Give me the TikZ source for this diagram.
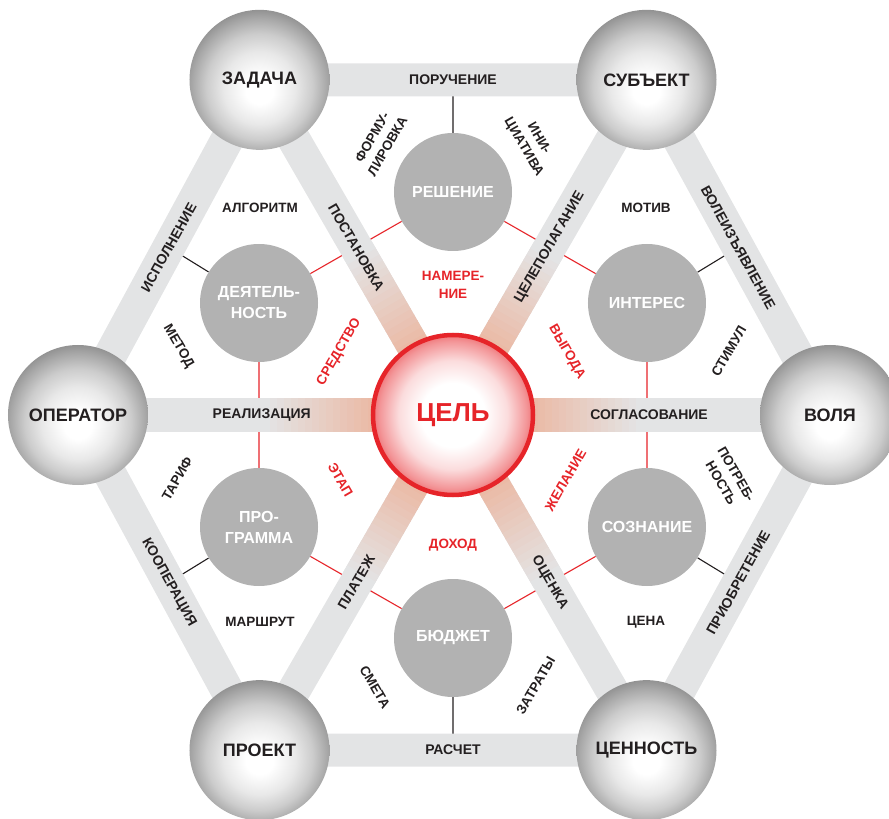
\documentclass[tikz,border=0pt]{standalone}
\usepackage{fontspec}
\setmainfont{Liberation Sans}
\usetikzlibrary{calc}

\definecolor{bargray}{RGB}{227,228,229}
\definecolor{spokered}{RGB}{235,186,166}
\definecolor{cellgray}{RGB}{178,178,178}
\definecolor{goalred}{RGB}{230,36,41}
\definecolor{inkblack}{RGB}{35,31,32}

\pgfdeclareradialshading{sphereshade}{\pgfpoint{0bp}{-4bp}}{color(0bp)=(white); color(5bp)=(white); color(13bp)=(black!9); color(19bp)=(black!20); color(24bp)=(black!34); color(28bp)=(black!46); color(50bp)=(black!46)}
\pgfdeclareradialshading{goalshade}{\pgforigin}{color(0bp)=(white); color(10bp)=(white); color(17bp)=(goalred!16); color(23bp)=(goalred!48); color(25bp)=(goalred!62); color(50bp)=(goalred!62)}

\pgfdeclarelayer{lines}
\pgfdeclarelayer{bars}
\pgfsetlayers{lines,bars,main}

\tikzset{
  sphere/.style={circle, minimum size=140pt, inner sep=0pt, shade, shading=sphereshade, text=inkblack, font=\fontsize{18}{20}\selectfont\bfseries},
  cell/.style={circle, minimum size=118pt, inner sep=0pt, fill=cellgray, text=white, align=center, font=\fontsize{16}{21}\selectfont\bfseries},
  goalball/.style={circle, minimum size=160pt, inner sep=0pt, shade, shading=goalshade, draw=goalred, line width=4.5pt, text=goalred, font=\fontsize{26}{30}\selectfont\bfseries},
  bar/.style={line width=33pt, draw=bargray},
  barlabel/.style={inner sep=0pt, text=inkblack, font=\fontsize{14}{17}\selectfont\bfseries},
  tag/.style={inner sep=0pt, align=center, text=inkblack, font=\fontsize{13.5}{17.5}\selectfont\bfseries},
  redtag/.style={tag, text=goalred},
  redline/.style={goalred, line width=1.1pt},
  blackline/.style={inkblack, line width=1.1pt}
}

\begin{document}
\begin{tikzpicture}[x=1pt, y=1pt]
    \useasboundingbox (-453,-404) rectangle (436,415);
    \coordinate (O) at (0,0);
    \node[sphere] (zad) at (120:387) {ЗАДАЧА};
    \node[sphere] (sub) at (60:387) {СУБЪЕКТ};
    \node[sphere] (vol) at (0:377) {ВОЛЯ};
    \node[sphere] (cen) at (-60:387) {ЦЕННОСТЬ};
    \node[sphere] (pro) at (-120:387) {ПРОЕКТ};
    \node[sphere] (opr) at (180:375) {ОПЕРАТОР};
    \node[cell] (resh) at (90:223) {РЕШЕНИЕ};
    \node[cell] (intr) at (30:224) {ИНТЕРЕС};
    \node[cell] (sozn) at (-30:224) {СОЗНАНИЕ};
    \node[cell] (budz) at (-90:223) {БЮДЖЕТ};
    \node[cell] (prog) at (-150:224) {ПРО-\\ГРАММА};
    \node[cell] (deya) at (150:224) {ДЕЯТЕЛЬ-\\НОСТЬ};
    \node[goalball] (goal) at (O) {ЦЕЛЬ};
    \coordinate (mZS) at ($(zad)!0.5!(sub)$);
    \coordinate (mSV) at ($(sub)!0.5!(vol)$);
    \coordinate (mVC) at ($(vol)!0.5!(cen)$);
    \coordinate (mCP) at ($(cen)!0.5!(pro)$);
    \coordinate (mPO) at ($(pro)!0.5!(opr)$);
    \coordinate (mOZ) at ($(opr)!0.5!(zad)$);
    \begin{pgfonlayer}{lines}
        \draw[redline] (resh) -- (intr) -- (sozn) -- (budz) -- (prog) -- (deya) -- (resh);
        \draw[blackline] (resh) -- (mZS) (intr) -- (mSV) (sozn) -- (mVC) (budz) -- (mCP) (prog) -- (mPO) (deya) -- (mOZ);
    \end{pgfonlayer}
    \begin{pgfonlayer}{bars}
        \draw[bar] (zad.center) -- (sub.center) -- (vol.center) -- (cen.center) -- (pro.center) -- (opr.center) -- cycle;
        \foreach \s in {zad,sub,vol,cen,pro,opr} {
            \draw[bar] (goal.center) -- (\s.center);
            \foreach \k in {0,...,15} {
                \pgfmathsetmacro\p{100-100*\k/15}
                \pgfmathsetmacro\ra{78+7*\k}
                \pgfmathsetmacro\rb{86+7*\k}
                \draw[bar, draw=spokered!\p!bargray] ($(goal.center)!\ra pt!(\s.center)$) -- ($(goal.center)!\rb pt!(\s.center)$);
            }
        }
    \end{pgfonlayer}
    \node[barlabel] (lPor) at (mZS) {ПОРУЧЕНИЕ};
    \node[barlabel, rotate=-61] (lVol) at (mSV) {ВОЛЕИЗЪЯВЛЕНИЕ};
    \node[barlabel, rotate=61] (lPri) at (mVC) {ПРИОБРЕТЕНИЕ};
    \node[barlabel] (lRas) at (mCP) {РАСЧЕТ};
    \node[barlabel, rotate=-61] (lKoo) at (mPO) {КООПЕРАЦИЯ};
    \node[barlabel, rotate=61] (lIsp) at (mOZ) {ИСПОЛНЕНИЕ};
    \node[barlabel, rotate=-60] (lPos) at ($(goal)!0.5!(zad)$) {ПОСТАНОВКА};
    \node[barlabel, rotate=60] (lCel) at ($(goal)!0.5!(sub)$) {ЦЕЛЕПОЛАГАНИЕ};
    \node[barlabel] (lSog) at ($(goal)!0.52!(vol)$) {СОГЛАСОВАНИЕ};
    \node[barlabel, rotate=-60] (lOce) at ($(goal)!0.5!(cen)$) {ОЦЕНКА};
    \node[barlabel, rotate=60] (lPla) at ($(goal)!0.5!(pro)$) {ПЛАТЕЖ};
    \node[barlabel] (lRea) at ($(goal)!0.51!(opr)$) {РЕАЛИЗАЦИЯ};
    \foreach \a/\r/\t [count=\i] in {13/60/СТИМУЛ, 47/0/МОТИВ, 74/-60/{ИНИ-\\ЦИАТИВА}, 105/60/{ФОРМУ-\\ЛИРОВКА}, 133/0/АЛГОРИТМ, 166/-60/МЕТОД, 193/60/ТАРИФ, 227/0/МАРШРУТ, 254/-60/СМЕТА, 287/60/ЗАТРАТЫ, 313/0/ЦЕНА, 347/-60/{ПОТРЕБ-\\НОСТЬ}}
        \node[tag, rotate=\r] (tag\i) at (\a:283) {\t};
    \foreach \a/\r/\t [count=\i] in {90/0/{НАМЕРЕ-\\НИЕ}, 29/-60/ВЫГОДА, -30/60/ЖЕЛАНИЕ, -90/0/ДОХОД, 210/-60/ЭТАП, 151/60/СРЕДСТВО}
        \node[redtag, rotate=\r] (red\i) at (\a:130) {\t};
\end{tikzpicture}
\end{document}
